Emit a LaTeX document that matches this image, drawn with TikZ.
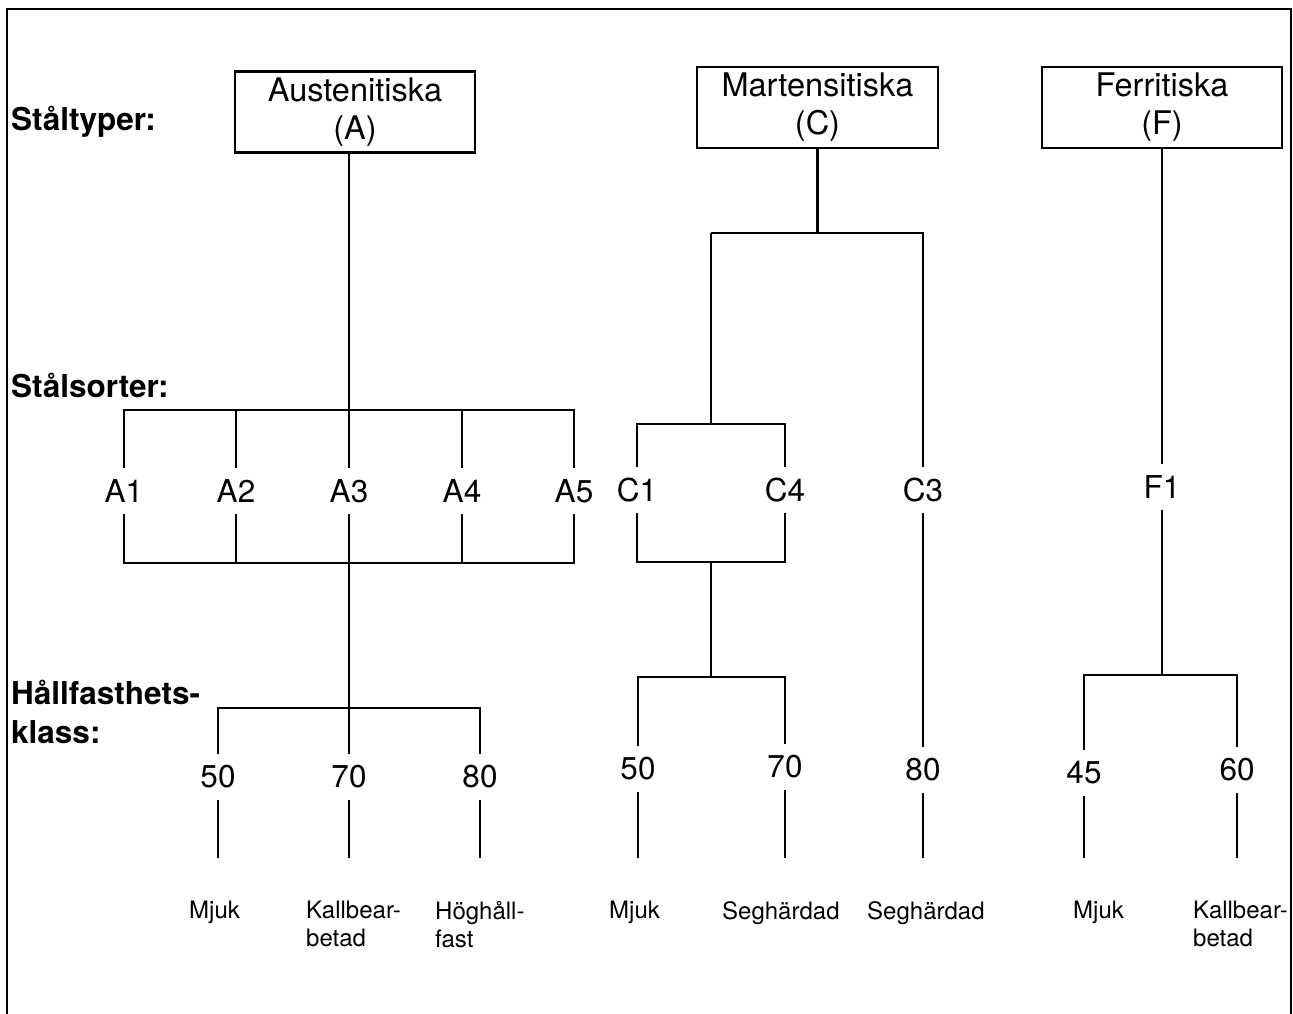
\documentclass[tikz,border=0pt]{standalone}
\usepackage{fontspec}
\setmainfont{TeX Gyre Heros}
\begin{document}
\begin{tikzpicture}[x=1pt,y=-1pt,
  ln/.style={line width=2.4pt},
  typebox/.style={draw,line width=2.7pt,minimum width=240pt,minimum height=81pt,inner sep=0pt,align=center,font=\fontsize{32.5}{38}\selectfont},
  lbl/.style={inner sep=0pt,minimum height=46pt,font=\fontsize{31.5}{36}\selectfont},
  hdr/.style={anchor=west,inner sep=0pt,align=left,font=\bfseries\fontsize{31.5}{39}\selectfont},
  note/.style={anchor=north west,inner sep=0pt,align=left,font=\fontsize{24}{28}\selectfont}]
\useasboundingbox (0,0) rectangle (1293,1014);
\draw[ln] (7,1016) -- (7,9) -- (1291,9) -- (1291,1016);

% headers
\node[hdr] (h1) at (11,122) {Ståltyper:};
\node[hdr] (h2) at (11,385) {Stålsorter:};
\node[hdr] (h3) at (11,712) {Hållfasthets-\\klass:};

% type boxes
\node[typebox] (Abox) at (355,112) {Austenitiska\\(A)};
\node[typebox,minimum width=241pt] (Cbox) at (817.5,107.5) {Martensitiska\\(C)};
\node[typebox] (Fbox) at (1162,107.5) {Ferritiska\\(F)};

% steel grades
\node[lbl] (A1) at (124,491) {A1};
\node[lbl] (A2) at (236,491) {A2};
\node[lbl] (A3) at (349,491) {A3};
\node[lbl] (A4) at (462,491) {A4};
\node[lbl] (A5) at (574,491) {A5};
\node[lbl] (C1) at (637,490) {C1};
\node[lbl] (C4) at (785,490) {C4};
\node[lbl] (C3) at (923,490) {C3};
\node[lbl] (F1) at (1162,487) {F1};

% strength classes
\node[lbl] (a50) at (218,777) {50};
\node[lbl] (a70) at (349,777) {70};
\node[lbl] (a80) at (480,777) {80};
\node[lbl] (c50) at (638,769) {50};
\node[lbl] (c70) at (785,767) {70};
\node[lbl] (c80) at (923,770) {80};
\node[lbl] (f45) at (1084,773) {45};
\node[lbl] (f60) at (1237,770) {60};

% junction coordinates
\coordinate (busA) at (349,410);
\coordinate (busA2) at (349,563);
\coordinate (clsA) at (349,708);
\coordinate (cj) at (711,233);
\coordinate (cpair) at (711,424);
\coordinate (cpair2) at (711,562);
\coordinate (clsC) at (711,677);
\coordinate (clsF) at (1162,675);
\coordinate (bot) at (0,858);

% austenitic
\draw[ln] (Abox.south -| A3.north) -- (A3.north);
\draw[ln] (A1.north) |- (busA) -| (A5.north);
\draw[ln] (A2.north) -- (A2.north |- busA);
\draw[ln] (A4.north) -- (A4.north |- busA);
\draw[ln] (A1.south) |- (busA2) -| (A5.south);
\draw[ln] (A2.south) -- (A2.south |- busA2);
\draw[ln] (A4.south) -- (A4.south |- busA2);
\draw[ln] (A3.south) -- (a70.north);
\draw[ln] (a50.north) |- (clsA) -| (a80.north);

% martensitic
\draw[ln] (Cbox.south) -- (Cbox.south |- cj);
\draw[ln] (cj) -- (C3.north |- cj) -- (C3.north);
\draw[ln] (cj) -- (cpair);
\draw[ln] (C1.north) |- (cpair) -| (C4.north);
\draw[ln] (C1.south) |- (cpair2) -| (C4.south);
\draw[ln] (cpair2) -- (clsC);
\draw[ln] (c50.north) |- (clsC) -| (c70.north);
\draw[ln] (C3.south) -- (c80.north);

% ferritic
\draw[ln] (Fbox.south) -- (F1.north);
\draw[ln] (F1.south) -- (clsF);
\draw[ln] (f45.north) |- (clsF) -| (f60.north);

% lower stubs
\foreach \n in {a50,a70,a80,c50,c70,c80,f45,f60}
  \draw[ln] (\n.south) -- (\n.south |- bot);

% descriptions
\node[note] (d1) at (189,901) {Mjuk};
\node[note] (d2) at (306,901) {Kallbear-\\betad};
\node[note] (d3) at (435,901) {Höghåll-\\fast};
\node[note] (d4) at (609,901) {Mjuk};
\node[note] (d5) at (722,901) {Seghärdad};
\node[note] (d6) at (867,901) {Seghärdad};
\node[note] (d7) at (1073,901) {Mjuk};
\node[note] (d8) at (1193,901) {Kallbear-\\betad};
\end{tikzpicture}
\end{document}
